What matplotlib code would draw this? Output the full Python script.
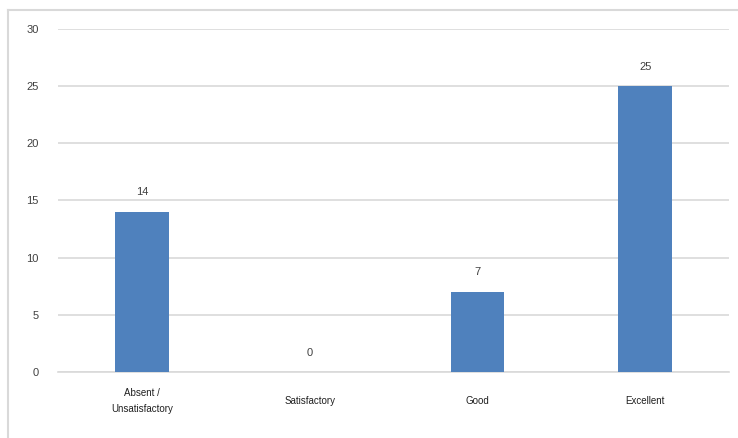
import matplotlib
matplotlib.use('Agg')
import matplotlib.pyplot as plt
from matplotlib.lines import Line2D

# ---- data ----
categories = ['Absent /\nUnsatisfactory', 'Satisfactory', 'Good', 'Excellent']
counts     = [14, 0, 7, 25]
y_ticks    = [0, 5, 10, 15, 20, 25, 30]

BAR_COLOR  = '#4F81BD'
GRID_COLOR = '#D9D9D9'
TEXT_COLOR = '#404040'

plt.rcParams['font.family'] = ['Liberation Sans', 'DejaVu Sans']

fig = plt.figure(figsize=(7.38, 4.38), dpi=100)
ax = fig.add_axes([0.0786, 0.1507, 0.9094, 0.7833])

x = range(len(categories))
ax.bar(x, counts, width=0.32, color=BAR_COLOR, zorder=3)

for xi, v in zip(x, counts):
    ax.annotate(str(v), (xi, v), xytext=(0, 14), textcoords='offset points',
                ha='center', va='center', fontsize=8, color=TEXT_COLOR)

ax.set_xlim(-0.5, len(categories) - 0.5)
ax.set_ylim(0, 30)
ax.set_yticks(y_ticks)
ax.yaxis.grid(True, color=GRID_COLOR, linewidth=1.2, zorder=0)
ax.tick_params(axis='y', length=0, pad=14, labelsize=8, labelcolor=TEXT_COLOR)
ax.tick_params(axis='x', length=0, pad=21, labelsize=7, labelcolor='#202020')
ax.set_xticks(list(x))
ax.set_xticklabels(categories, linespacing=1.75, va='center')
for s in ['top', 'right', 'left']:
    ax.spines[s].set_visible(False)
ax.spines['bottom'].set_color(GRID_COLOR)
ax.spines['bottom'].set_linewidth(1.2)

# chart frame: only the left and top edges show in the cropped original
W, H = 738, 438
fig.lines.append(Line2D([8 / W, 8 / W], [0, 1 - 10 / H], transform=fig.transFigure,
                        color=GRID_COLOR, linewidth=1.5))
fig.lines.append(Line2D([8 / W, 1], [1 - 10 / H, 1 - 10 / H], transform=fig.transFigure,
                        color=GRID_COLOR, linewidth=1.5))

fig.savefig('out.png', dpi=100)
